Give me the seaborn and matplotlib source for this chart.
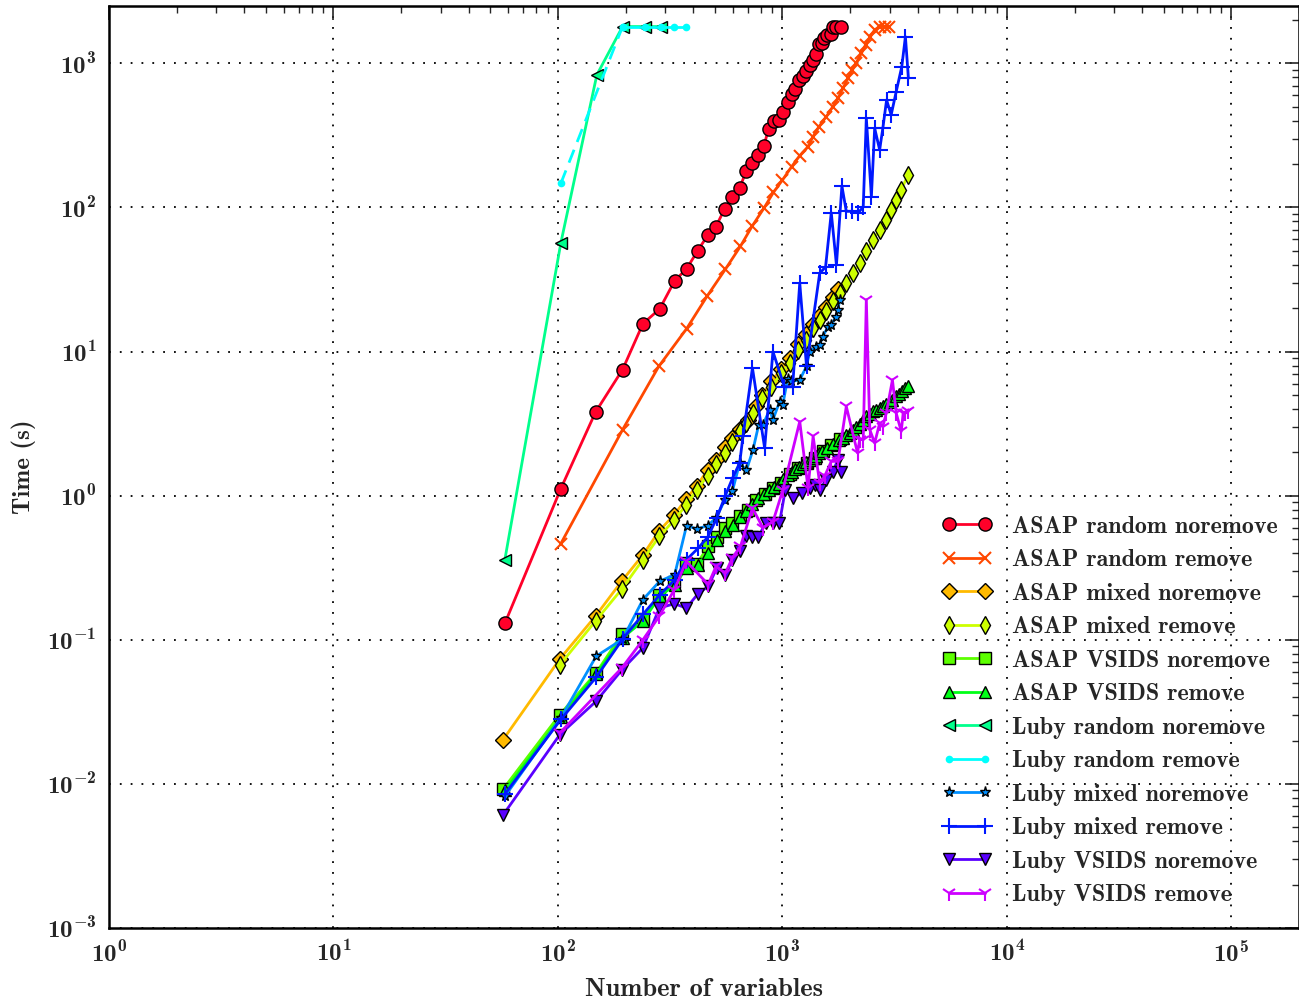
import numpy as np
import matplotlib
matplotlib.use("Agg")
import matplotlib.pyplot as plt
from matplotlib.ticker import FuncFormatter
import seaborn as sns

# run times (s) against number of variables
asap_random_noremove_x = [58, 103, 147, 194, 239, 284, 331, 374, 419, 464, 504, 553, 598, 645, 691,
                          735, 781, 827, 868, 917, 962, 1009, 1055, 1099, 1141, 1184, 1230, 1273,
                          1322, 1373, 1410, 1454, 1506, 1536, 1585, 1638, 1678, 1738, 1821]
asap_random_noremove_y = [0.13, 1.12, 3.8, 7.5, 15.6, 19.8, 31, 37.5, 50, 64, 73, 98, 119, 137, 180,
                          205, 232, 269, 351, 396, 405, 462, 537, 610, 664, 763, 818, 890,
                          970, 1061, 1157, 1364, 1378, 1493, 1574, 1599, 1800, 1800, 1800]

asap_random_remove_x = [103, 194, 281, 374, 463, 557, 649, 734, 827, 911, 1000, 1099, 1194, 1300,
                        1368, 1455, 1568, 1678, 1767, 1860, 1958, 2048, 2133, 2246, 2346, 2462,
                        2574, 2712, 2851, 2970]
asap_random_remove_y = [0.465, 2.87, 7.88, 14.4, 24.4, 37.3, 53.6, 74.5, 98.9, 127, 155, 192, 229,
                        264, 310, 364, 427, 501, 573, 672, 788, 900, 1011, 1175, 1342, 1531,
                        1705, 1800, 1800, 1800]

asap_mixed_noremove_x = [57, 102, 147, 193, 239, 283, 330, 373, 416, 464, 506, 553, 598, 645, 699,
                         763, 813, 893, 989, 1077, 1173, 1268, 1367, 1465, 1568, 1678, 1760]
asap_mixed_noremove_y = [0.0203, 0.0737, 0.146, 0.257, 0.388, 0.572, 0.738, 0.953, 1.17, 1.51,
                         1.78, 2.18, 2.51, 2.90, 3.37, 4.16, 5.0, 6.2, 7.6, 9.0, 11.2, 13.2, 15.5,
                         18, 20.5, 24, 27]

asap_mixed_remove_x = [102, 147, 193, 239, 283, 330, 373, 416, 464, 506, 553, 598, 645, 691, 739,
                       813, 893, 989, 1077, 1173, 1268, 1367, 1465, 1568, 1678, 1798, 1926, 2061,
                       2207, 2364, 2531, 2711, 2879, 3053, 3212, 3382, 3622]
asap_mixed_remove_y = [0.067, 0.135, 0.226, 0.36, 0.522, 0.68, 0.866, 1.1, 1.38, 1.65, 1.98, 2.35,
                       2.79, 3.2, 3.73, 4.74, 5.71, 7.06, 8.29, 10.3, 12.1, 14.6, 16.6, 19.0, 22.3,
                       25.5, 29.9, 35.1, 41.1, 49.5, 59.7, 70, 82, 96, 113, 132, 168]

asap_vsids_noremove_x = [57, 102, 148, 193, 239, 283, 330, 373, 416, 467, 512, 557, 598, 650, 699,
                         765, 834, 911, 988, 1077, 1173, 1280, 1396, 1514, 1650, 1798]
asap_vsids_noremove_y = [0.0092, 0.0303, 0.059, 0.11, 0.14, 0.203, 0.25, 0.341, 0.337, 0.445,
                         0.517, 0.597, 0.647, 0.719, 0.80, 0.94, 1.03, 1.13, 1.22, 1.42, 1.56,
                         1.69, 1.83, 2.03, 2.26, 2.47]

asap_vsids_remove_x = [58, 103, 148, 194, 239, 284, 331, 374, 420, 465, 510, 555, 600, 645, 690,
                       735, 781, 827, 870, 915, 962, 1008, 1054, 1100, 1142, 1185, 1230, 1275,
                       1320, 1370, 1410, 1455, 1505, 1585, 1680, 1780, 1860, 1925, 1991, 2060,
                       2130, 2207, 2290, 2364, 2450, 2531, 2620, 2711, 2800, 2900, 3000, 3090,
                       3200, 3300, 3420, 3520, 3622]
asap_vsids_remove_y = [0.009, 0.029, 0.058, 0.103, 0.135, 0.2, 0.24, 0.315, 0.33, 0.40, 0.49,
                       0.57, 0.63, 0.71, 0.78, 0.88, 0.97, 1.02, 1.1, 1.15, 1.2, 1.3, 1.4, 1.46,
                       1.52, 1.57, 1.65, 1.7, 1.77, 1.83, 1.9, 1.97, 2.03, 2.15, 2.3, 2.45, 2.5,
                       2.62, 2.72, 2.85, 3.0, 3.15, 3.35, 3.55, 3.7, 3.85, 3.95, 4.05, 4.2, 4.35,
                       4.5, 4.63, 4.9, 5.1, 5.35, 5.55, 5.73]

luby_random_noremove_x = [58, 103, 149, 194, 243, 287]
luby_random_noremove_y = [0.36, 56.8, 832, 1800, 1800, 1800]

luby_random_remove_x = [103, 194, 243, 287, 330, 373]
luby_random_remove_y = [147, 1800, 1800, 1800, 1800, 1800]

luby_mixed_noremove_x = [58, 103, 148, 194, 239, 284, 331, 374, 416, 464, 506, 555, 598, 645, 691,
                         739, 784, 819, 877, 907, 972, 1003, 1055, 1096, 1194, 1280, 1322, 1410,
                         1465, 1510, 1597, 1648, 1735, 1767, 1798]
luby_mixed_noremove_y = [0.0082, 0.0287, 0.0769, 0.101, 0.19, 0.255, 0.283, 0.62, 0.587, 0.62,
                         0.70, 0.94, 1.07, 1.69, 1.50, 2.08, 3.11, 3.11, 3.95, 3.37, 4.5, 4.27,
                         6.5, 6.2, 6.36, 7.9, 10, 10.8, 11.1, 12.7, 14.9, 15.3, 17.5, 19.5, 22.9]

luby_mixed_remove_x = [58, 103, 148, 194, 239, 284, 331, 374, 420, 465, 510, 555, 600, 645, 667,
                       735, 833, 907, 1020, 1110, 1194, 1280, 1465, 1556, 1650, 1740, 1840, 1925,
                       2050, 2180, 2290, 2364, 2490, 2575, 2710, 2800, 2910, 3050, 3212, 3400,
                       3530, 3640]
luby_mixed_remove_y = [0.0085, 0.028, 0.055, 0.101, 0.15, 0.205, 0.26, 0.36, 0.43, 0.517, 0.70,
                       0.99, 1.33, 1.69, 2.58, 7.7, 2.14, 10.0, 5.7, 5.7, 29.9, 7.9, 35, 38.6, 92,
                       40, 141, 94, 94, 92, 101, 416, 119, 355, 251, 355, 557, 439, 637, 948,
                       1531, 788]

luby_vsids_noremove_x = [57, 102, 148, 193, 239, 283, 330, 373, 420, 467, 510, 557, 598, 650, 690,
                         735, 780, 842, 907, 970, 1030, 1110, 1220, 1322, 1400, 1465, 1568, 1678,
                         1767, 1830]
luby_vsids_noremove_y = [0.0061, 0.022, 0.0375, 0.062, 0.088, 0.166, 0.178, 0.166, 0.208, 0.235,
                         0.315, 0.283, 0.36, 0.41, 0.528, 0.517, 0.517, 0.647, 0.647, 0.647, 1.1,
                         0.96, 1.04, 1.13, 1.19, 1.1, 1.29, 1.47, 1.78, 1.47]

luby_vsids_remove_x = [102, 193, 239, 283, 330, 373, 467, 506, 557, 598, 650, 735, 818, 907, 1005,
                       1194, 1300, 1370, 1465, 1540, 1650, 1767, 1925, 2160, 2207, 2290, 2364,
                       2450, 2575, 2711, 2800, 2900, 3090, 3212, 3382, 3450, 3530, 3640]
luby_vsids_remove_y = [0.0226, 0.064, 0.1, 0.146, 0.223, 0.35, 0.242, 0.323, 0.29, 0.37, 0.445,
                       0.82, 0.6, 0.66, 1.1, 3.27, 1.13, 2.58, 1.22, 1.36, 1.73, 1.73, 4.16, 1.98,
                       2.45, 2.45, 22.9, 2.87, 2.32, 3.19, 3.02, 3.74, 6.36, 3.74, 2.79, 3.74,
                       3.74, 3.84]

labels = ['ASAP random noremove', 'ASAP random remove', 'ASAP mixed noremove',
          'ASAP mixed remove', 'ASAP VSIDS noremove', 'ASAP VSIDS remove',
          'Luby random noremove', 'Luby random remove', 'Luby mixed noremove',
          'Luby mixed remove', 'Luby VSIDS noremove', 'Luby VSIDS remove']
series = [(asap_random_noremove_x, asap_random_noremove_y),
          (asap_random_remove_x, asap_random_remove_y),
          (asap_mixed_noremove_x, asap_mixed_noremove_y),
          (asap_mixed_remove_x, asap_mixed_remove_y),
          (asap_vsids_noremove_x, asap_vsids_noremove_y),
          (asap_vsids_remove_x, asap_vsids_remove_y),
          (luby_random_noremove_x, luby_random_noremove_y),
          (luby_random_remove_x, luby_random_remove_y),
          (luby_mixed_noremove_x, luby_mixed_noremove_y),
          (luby_mixed_remove_x, luby_mixed_remove_y),
          (luby_vsids_noremove_x, luby_vsids_noremove_y),
          (luby_vsids_remove_x, luby_vsids_remove_y)]

x_ticks = [1, 10, 100, 1000, 10000, 100000]
y_ticks = [0.001, 0.01, 0.1, 1, 10, 100, 1000]

markers = ['o', 'x', 'D', 'd', 's', '^', '<', '.', '*', '+', 'v', '1']
sizes = [9.5, 8, 8, 9, 8, 9, 9, 8, 8, 11, 9, 11]
colors = plt.get_cmap('gist_rainbow')(np.arange(12) / 12)


def pow10(v, pos):
    return r'$10^{%d}$' % int(round(np.log10(v)))


sns.set_style('white')
plt.rcParams['font.family'] = ['cmb10', 'DejaVu Serif']
plt.rcParams['mathtext.fontset'] = 'custom'
plt.rcParams['mathtext.rm'] = 'cmb10'
plt.rcParams['mathtext.it'] = 'cmb10'
plt.rcParams['mathtext.bf'] = 'cmb10'
plt.rcParams['mathtext.default'] = 'rm'
plt.rcParams['mathtext.fallback'] = 'cm'
plt.rcParams['axes.unicode_minus'] = False
plt.rcParams['axes.linewidth'] = 1.8
plt.rcParams['axes.edgecolor'] = 'black'

fig = plt.figure(figsize=(12.99, 10.01), dpi=100)
ax = fig.add_axes([109 / 1299, 73 / 1001, 1 - 109 / 1299, 922 / 1001])
ax.set_xscale('log')
ax.set_yscale('log')

for i, (xs, ys) in enumerate(series):
    filled = markers[i] not in ('x', '+', '1', '.')
    mec = 'black' if filled else colors[i]
    style = dict(color=colors[i], marker=markers[i], markersize=sizes[i],
                 mec=mec, mew=1.0 if filled else 1.5, linewidth=2,
                 estimator=None, sort=False, ax=ax)
    if labels[i] == 'Luby random remove':
        # first rise drawn dashed, as in the original
        sns.lineplot(x=xs[:2], y=ys[:2], linestyle=(0, (5, 3)), label='_nolegend_',
                     legend=False, **style)
        sns.lineplot(x=xs[1:], y=ys[1:], label=labels[i], **style)
    else:
        sns.lineplot(x=xs, y=ys, label=labels[i], **style)

ax.set_xticks(x_ticks)
ax.set_yticks(y_ticks)
ax.set_xlim(1, 2e5)
ax.set_ylim(1e-3, 2.5e3)
ax.xaxis.set_major_formatter(FuncFormatter(pow10))
ax.yaxis.set_major_formatter(FuncFormatter(pow10))
ax.grid(True, which='major', color='black', linestyle=(0, (1, 5)), linewidth=1.3)
ax.tick_params(which='both', direction='in', top=True, right=True, labelsize=18, pad=9)
ax.tick_params(which='major', length=10, width=1.2)
ax.tick_params(which='minor', length=5, width=1.0)
ax.set_xlabel('Number of variables', fontsize=19, labelpad=8)
ax.set_ylabel('Time (s)', fontsize=18, labelpad=8)

ax.legend(loc='lower right', frameon=False, numpoints=2, fontsize=17.3,
          handlelength=2.1, handletextpad=0.8, labelspacing=0.48,
          borderaxespad=0.5)

fig.savefig('out.png', dpi=100)
